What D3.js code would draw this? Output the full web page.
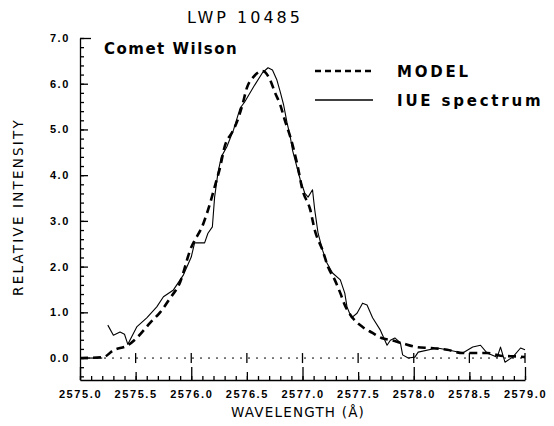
<!DOCTYPE html>
<html>
<head>
<meta charset="utf-8">
<script src="https://cdn.jsdelivr.net/npm/d3@7"></script>
<style>
  body { margin: 0; background: #fff; }
  svg { display: block; font-family: "DejaVu Sans", sans-serif; }
  .axis path, .axis line { stroke: #000; stroke-width: 1.3; }
  .axis text { font-size: 11px; font-weight: bold; fill: #000; letter-spacing: 1.6px; }
</style>
</head>
<body>
<script>
// model (dashed) curve
var modelWl = [2575.0, 2575.21, 2575.30, 2575.43, 2575.51, 2575.63, 2575.72, 2575.81, 2575.90, 2575.99,
  2576.11, 2576.17, 2576.21, 2576.26, 2576.30, 2576.37, 2576.41, 2576.46, 2576.50, 2576.56, 2576.64,
  2576.71, 2576.75, 2576.80, 2576.84, 2576.89, 2576.95, 2577.00, 2577.07, 2577.11, 2577.18, 2577.23,
  2577.29, 2577.34, 2577.38, 2577.45, 2577.54, 2577.63, 2577.71, 2577.80, 2577.89, 2578.03, 2578.15,
  2578.30, 2578.44, 2578.66, 2578.78, 2578.96, 2579.0];
var modelI = [0.0, 0.02, 0.17, 0.28, 0.44, 0.77, 1.0, 1.31, 1.66, 2.36,
  2.95, 3.39, 3.74, 4.18, 4.62, 4.95, 5.16, 5.54, 5.91, 6.15, 6.28,
  6.08, 5.82, 5.54, 5.21, 4.84, 4.27, 3.68, 3.24, 2.80, 2.36, 1.99,
  1.71, 1.42, 1.16, 0.88, 0.68, 0.55, 0.44, 0.39, 0.33, 0.24, 0.22,
  0.18, 0.11, 0.11, 0.05, 0.03, 0.02];

// IUE spectrum (solid)
var iueWl = [2575.25, 2575.30, 2575.36, 2575.40, 2575.43, 2575.51, 2575.60, 2575.69, 2575.75, 2575.84,
  2575.93, 2576.00, 2576.03, 2576.12, 2576.15, 2576.19, 2576.21, 2576.24, 2576.27, 2576.32, 2576.38,
  2576.44, 2576.48, 2576.57, 2576.64, 2576.69, 2576.73, 2576.77, 2576.80, 2576.83, 2576.86, 2576.89,
  2576.91, 2576.98, 2577.02, 2577.05, 2577.09, 2577.11, 2577.14, 2577.18, 2577.22, 2577.27, 2577.34,
  2577.38, 2577.40, 2577.44, 2577.49, 2577.54, 2577.58, 2577.63, 2577.70, 2577.76, 2577.79, 2577.83,
  2577.88, 2577.90, 2577.95, 2578.01, 2578.04, 2578.21, 2578.30, 2578.44, 2578.53, 2578.60, 2578.66,
  2578.75, 2578.78, 2578.82, 2578.89, 2578.96, 2579.0];
var iueI = [0.72, 0.50, 0.57, 0.52, 0.30, 0.68, 0.88, 1.12, 1.34, 1.49,
  1.82, 2.21, 2.52, 2.52, 2.73, 2.87, 3.52, 4.05, 4.40, 4.62, 4.99,
  5.47, 5.60, 5.97, 6.24, 6.35, 6.30, 6.08, 5.82, 5.54, 5.16, 4.84,
  4.55, 3.90, 3.61, 3.52, 3.68, 3.24, 2.73, 2.36, 2.08, 1.86, 1.71,
  1.42, 1.12, 0.88, 0.98, 1.20, 1.16, 0.88, 0.61, 0.28, 0.39, 0.44,
  0.33, 0.07, 0.0, 0.02, 0.13, 0.22, 0.18, 0.11, 0.24, 0.28, 0.11,
  0.02, 0.24, -0.09, 0.02, 0.22, 0.18];

var xMajor = [2575.0, 2575.5, 2576.0, 2576.5, 2577.0, 2577.5, 2578.0, 2578.5, 2579.0];
var yMajor = [0, 1, 2, 3, 4, 5, 6, 7];
var legendNames = ["MODEL", "IUE spectrum"];

var width = 554, height = 426;

var svg = d3.select("body").append("svg")
    .attr("width", width)
    .attr("height", height);

var x = d3.scaleLinear().domain([2575, 2579]).range([80, 525]);
var y = d3.scaleLinear().domain([-0.48, 7]).range([380, 38]);

// minor ticks
var xMinor = d3.range(0, 41).map((i) => 2575 + i * 0.1);
var yMinor = d3.range(-2, 36).map((i) => i * 0.2);

svg.append("g")
    .attr("class", "axis")
    .attr("transform", "translate(0," + y(-0.48) + ")")
    .call(d3.axisBottom(x).tickValues(xMinor).tickSize(-4).tickFormat(""))
    .call((g) => g.select(".domain").remove());

// half-angstrom ticks a bit taller, whole ones taller still
svg.append("g")
    .attr("class", "axis")
    .attr("transform", "translate(0," + y(-0.48) + ")")
    .call(d3.axisBottom(x).tickValues(xMajor).tickSizeInner(-8).tickSizeOuter(0).tickPadding(10)
      .tickFormat(d3.format(".1f")))
    .call((g) => g.selectAll(".tick line")
      .attr("y2", (d) => Math.abs(d % 1) < 1e-6 ? -13 : -8));

svg.append("g")
    .attr("class", "axis")
    .attr("transform", "translate(" + x(2575) + ",0)")
    .call(d3.axisLeft(y).tickValues(yMinor).tickSize(-4).tickFormat(""))
    .call((g) => g.select(".domain").remove());

svg.append("g")
    .attr("class", "axis")
    .attr("transform", "translate(" + x(2575) + ",0)")
    .call(d3.axisLeft(y).tickValues(yMajor).tickSizeInner(-8).tickSizeOuter(0).tickPadding(10)
      .tickFormat(d3.format(".1f")))
    .call((g) => g.selectAll(".tick line").attr("x2", (d) => d === 7 ? 11 : 8));

// zero line, dotted with small crosses
svg.append("line")
    .attr("x1", x(2575)).attr("x2", x(2579))
    .attr("y1", y(0)).attr("y2", y(0))
    .attr("stroke", "#000")
    .attr("stroke-width", 1)
    .attr("stroke-dasharray", "2,6");

svg.append("line")
    .attr("x1", x(2575)).attr("x2", x(2575.2))
    .attr("y1", y(0)).attr("y2", y(0))
    .attr("stroke", "#000")
    .attr("stroke-width", 1.2);

svg.selectAll(".zmark")
    .data(xMajor.slice(1))
    .join("line")
    .attr("class", "zmark")
    .attr("x1", (d) => x(d)).attr("x2", (d) => x(d))
    .attr("y1", y(0) - 5).attr("y2", y(0) + 5)
    .attr("stroke", "#000")
    .attr("stroke-width", 1.3);

var line = d3.line()
    .x((d) => x(d[0]))
    .y((d) => y(d[1]));

svg.append("path")
    .datum(iueWl.map((w, i) => [w, iueI[i]]))
    .attr("d", line)
    .attr("fill", "none")
    .attr("stroke", "#000")
    .attr("stroke-width", 1.1)
    .attr("stroke-linejoin", "round");

svg.append("path")
    .datum(modelWl.map((w, i) => [w, modelI[i]]))
    .attr("d", d3.line().curve(d3.curveMonotoneX).x((d) => x(d[0])).y((d) => y(d[1])))
    .attr("fill", "none")
    .attr("stroke", "#000")
    .attr("stroke-width", 2.6)
    .attr("stroke-dasharray", "8,5");

// titles
svg.append("text")
    .attr("x", 245).attr("y", 23)
    .attr("text-anchor", "middle")
    .attr("font-size", 16)
    .attr("letter-spacing", 3)
    .text("LWP 10485");

svg.append("text")
    .attr("x", 104).attr("y", 54)
    .attr("font-size", 15)
    .attr("font-weight", "bold")
    .attr("letter-spacing", 1.5)
    .text("Comet Wilson");

svg.append("text")
    .attr("transform", "translate(23,207) rotate(-90)")
    .attr("text-anchor", "middle")
    .attr("font-size", 13.5)
    .attr("letter-spacing", 2.2)
    .text("RELATIVE INTENSITY");

svg.append("text")
    .attr("x", 298).attr("y", 417)
    .attr("text-anchor", "middle")
    .attr("font-size", 13.5)
    .attr("letter-spacing", 1.2)
    .text("WAVELENGTH (Å)");

// legend
var legend = svg.append("g");
legend.selectAll("line")
    .data(legendNames)
    .join("line")
    .attr("x1", 315).attr("x2", 373)
    .attr("y1", (d, i) => 71 + i * 29).attr("y2", (d, i) => 71 + i * 29)
    .attr("stroke", "#000")
    .attr("stroke-width", (d, i) => i === 0 ? 2.4 : 1.4)
    .attr("stroke-dasharray", (d, i) => i === 0 ? "6,4" : null);

legend.selectAll("text")
    .data(legendNames)
    .join("text")
    .attr("x", 397)
    .attr("y", (d, i) => 77 + i * 29)
    .attr("font-size", 15)
    .attr("font-weight", "bold")
    .attr("letter-spacing", 2.8)
    .text((d) => d);
</script>
</body>
</html>
